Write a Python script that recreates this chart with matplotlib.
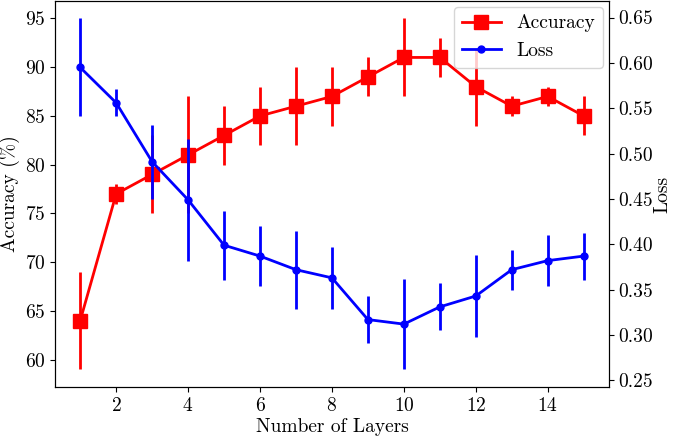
import matplotlib
matplotlib.use("Agg")
import matplotlib.pyplot as plt
import numpy as np

plt.rcParams['font.family'] = ['cmr10', 'DejaVu Serif']
plt.rcParams['mathtext.fontset'] = 'cm'
plt.rcParams['axes.formatter.use_mathtext'] = True
plt.rcParams['font.size'] = 14

layers = np.arange(1, 16)
accuracy = [64, 77, 79, 81, 83, 85, 86, 87, 89, 91, 91, 88, 86, 87, 85]
accuracy_err = [5, 1, 4, 6, 3, 3, 4, 3, 2, 4, 2, 4, 1, 1, 2]
loss = [0.595, 0.556, 0.491, 0.449, 0.399, 0.387, 0.372, 0.363,
        0.317, 0.312, 0.331, 0.343, 0.372, 0.382, 0.387]
loss_err = [0.054, 0.015, 0.041, 0.067, 0.038, 0.033, 0.043, 0.034,
            0.026, 0.050, 0.026, 0.045, 0.022, 0.028, 0.026]
loss_ticks = [0.25, 0.30, 0.35, 0.40, 0.45, 0.50, 0.55, 0.60, 0.65]

fig, ax = plt.subplots(figsize=(6.75, 4.41), dpi=100)
fig.subplots_adjust(left=0.0815, right=0.902, bottom=0.1224, top=0.998)

l1 = ax.errorbar(layers, accuracy, yerr=accuracy_err, color='red', marker='s',
                 markersize=10, linewidth=2, elinewidth=2, capsize=0,
                 label='Accuracy')
ax.set_xlabel('Number of Layers', labelpad=2)
ax.set_ylabel('Accuracy (%)', labelpad=3)

ax2 = ax.twinx()
l2 = ax2.errorbar(layers, loss, yerr=loss_err, color='blue', marker='o',
                  markersize=5, linewidth=2, elinewidth=2, capsize=0,
                  label='Loss')
ax2.set_ylabel('Loss', labelpad=0)
ax2.set_yticks(loss_ticks)
ax2.set_yticklabels(['%.2f' % v for v in loss_ticks])

ax.set_xticks([2, 4, 6, 8, 10, 12, 14])
ax.set_yticks([60, 65, 70, 75, 80, 85, 90, 95])

ax2.legend([l1[0], l2[0]], ['Accuracy', 'Loss'], loc='upper right',
           borderaxespad=0.3, handlelength=2, fontsize=14)

fig.savefig('out.png', dpi=100)
